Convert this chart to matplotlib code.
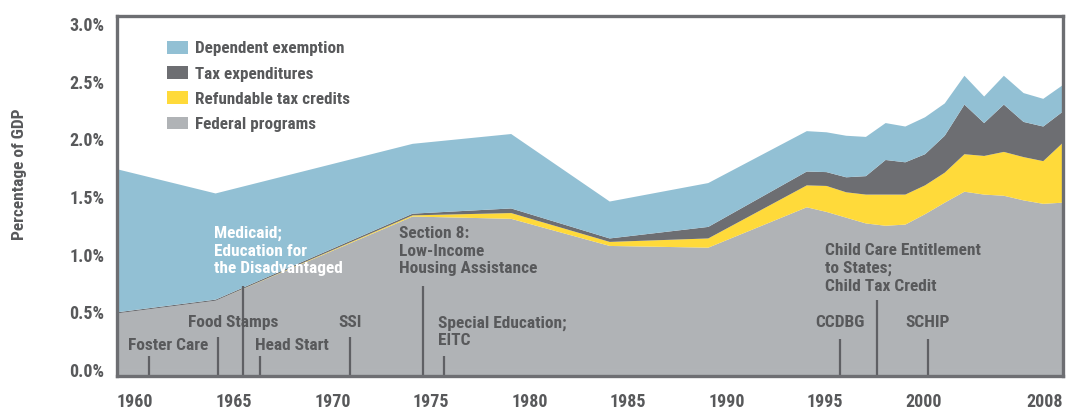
import matplotlib
matplotlib.use("Agg")
import matplotlib.pyplot as plt
from matplotlib import font_manager
from matplotlib.font_manager import FontProperties
import warnings
warnings.simplefilter("ignore")

# data (percentage of GDP)
years = [1960, 1965, 1975, 1980, 1985, 1990, 1995, 1996, 1997, 1998, 1999, 2000,
         2001, 2002, 2003, 2004, 2005, 2006, 2007, 2008]
federal_programs = [0.49, 0.60, 1.33, 1.31, 1.075, 1.06, 1.41, 1.37, 1.32, 1.27, 1.25, 1.26,
                    1.35, 1.45, 1.545, 1.52, 1.51, 1.47, 1.44, 1.45]
refundable_credits = [0.0, 0.0, 0.01, 0.05, 0.035, 0.08, 0.19, 0.225, 0.22, 0.25, 0.27, 0.26,
                      0.25, 0.26, 0.325, 0.335, 0.38, 0.375, 0.37, 0.52]
tax_expenditures = [0.01, 0.01, 0.015, 0.04, 0.03, 0.10, 0.12, 0.12, 0.13, 0.16, 0.30, 0.28,
                    0.27, 0.32, 0.43, 0.285, 0.41, 0.305, 0.30, 0.27]
dependent_exemption = [1.24, 0.92, 0.605, 0.645, 0.32, 0.38, 0.35, 0.345, 0.36, 0.34, 0.32, 0.31,
                       0.32, 0.28, 0.25, 0.23, 0.25, 0.25, 0.24, 0.23]

series_labels = ["Federal programs", "Refundable tax credits", "Tax expenditures", "Dependent exemption"]
colors = ["#b0b3b6", "#ffda3a", "#6d6e72", "#92c0d4"]

xtick_years = [1960, 1965, 1970, 1975, 1980, 1985, 1990, 1995, 2000, 2008]
ytick_vals = [0.0, 0.5, 1.0, 1.5, 2.0, 2.5, 3.0]

# program milestones: label, line x, line height, text x, text y, alignment, text colour
events = [
    ("Foster Care", 1961.6, 0.12, 1960.55, 0.21, "left", "dark"),
    ("Food Stamps", 1965.1, 0.29, 1963.6, 0.41, "left", "dark"),
    ("Medicaid;\nEducation for\nthe Disadvantaged", 1966.4, 0.73, 1964.9, 1.03, "left", "white"),
    ("Head Start", 1967.25, 0.12, 1967.0, 0.21, "left", "dark"),
    ("SSI", 1971.8, 0.29, 1971.8, 0.41, "center", "dark"),
    ("Section 8:\nLow-Income\nHousing Assistance", 1975.5, 0.73, 1974.3, 1.03, "left", "dark"),
    ("Special Education;\nEITC", 1976.6, 0.12, 1976.3, 0.33, "left", "dark"),
    ("CCDBG", 1996.7, 0.27, 1996.7, 0.41, "center", "dark"),
    ("Child Care Entitlement\nto States;\nChild Tax Credit", 1998.55, 0.61, 1995.9, 0.88, "left", "dark"),
    ("SCHIP", 2001.15, 0.27, 2001.15, 0.41, "center", "dark"),
]

# pick a bold condensed face if one is installed
pref = ["Roboto Condensed", "Liberation Sans Narrow", "Open Sans Condensed", "Open Sans",
        "Noto Sans", "DejaVu Sans Condensed", "DejaVu Sans", "Roboto", "Inter", "Lato"]
stretch_rank = {"extra-condensed": 0, "condensed": 0, "semi-condensed": 1}
cands = []
for f in font_manager.fontManager.ttflist:
    narrow = f.stretch in stretch_rank or "Condensed" in f.name or "Narrow" in f.name
    w = f.weight if isinstance(f.weight, int) else {"bold": 700, "semibold": 600}.get(f.weight, 400)
    if narrow and f.style == "normal" and w >= 600 and f.name in pref:
        cands.append((pref.index(f.name), stretch_rank.get(f.stretch, 0), abs(w - 700), f.fname))
cands.sort()
FONT = cands[0][3] if cands else font_manager.findfont(FontProperties(family="DejaVu Sans", weight="bold"))


def fp(size):
    return FontProperties(fname=FONT, size=size)


text_dark = "#58595b"
edge_col = "#6d6e72"

fig = plt.figure(figsize=(10.68, 4.11), dpi=100)
ax = fig.add_axes([0.1096, 0.0852, 0.8857, 0.8759])

ax.axhspan(-0.06, 0, color=colors[0], lw=0)
polys = ax.stackplot(years, federal_programs, refundable_credits, tax_expenditures,
                     dependent_exemption, colors=colors, linewidth=0, labels=series_labels)

for label, lx, lh, tx, ty, ha, tc in events:
    ax.plot([lx, lx], [-0.06, lh], color="#5f6064", lw=1.6, zorder=3, solid_capstyle='butt')
    ax.text(tx, ty, label, ha=ha, va="center", fontproperties=fp(12.5),
            color="white" if tc == "white" else text_dark, linespacing=1.2, zorder=4)

ax.set_xlim(1960, 2008)
ax.set_ylim(-0.052, 3.068)

ax.set_yticks(ytick_vals)
ax.set_yticklabels(["%.1f%%" % v for v in ytick_vals])
ax.set_xticks(xtick_years)
ax.set_xticklabels([str(y) for y in xtick_years])
for i, t in enumerate(ax.get_xticklabels()):
    t.set_ha("right" if i == len(xtick_years) - 1 else "left")
for t in ax.get_xticklabels() + ax.get_yticklabels():
    t.set_fontproperties(fp(13))
ax.tick_params(axis="both", length=0, colors=text_dark)
ax.tick_params(axis="y", pad=9)
ax.tick_params(axis="x", pad=12.5)

for s in ax.spines.values():
    s.set_color(edge_col)
    s.set_linewidth(2.4)
    s.set_zorder(5)

ax.set_ylabel("Percentage of GDP", fontproperties=fp(12.5), color=text_dark)
ax.yaxis.set_label_coords(-0.095, 0.561)

handles = polys[::-1]
leg = ax.legend(handles, series_labels[::-1], loc="upper left", bbox_to_anchor=(0.0529, 0.93),
                frameon=False, prop=fp(12.3), handlelength=1.2, handleheight=0.75,
                handletextpad=0.45, labelspacing=0.58, borderaxespad=0, borderpad=0)
for t in leg.get_texts():
    t.set_color(text_dark)

fig.savefig("out.png", dpi=100)
